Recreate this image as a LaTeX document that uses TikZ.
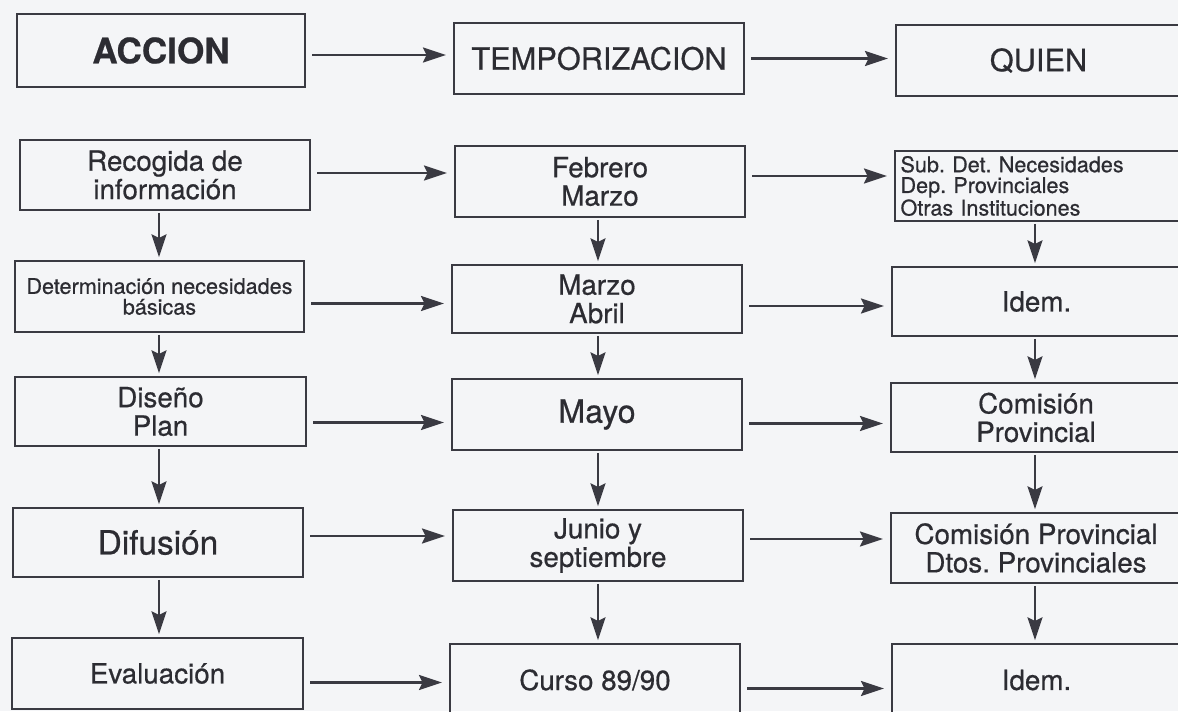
\documentclass[tikz,border=0pt]{standalone}
\usepackage{fontspec}
\setmainfont{TeX Gyre Heros}[FakeBold=0.6]
\usetikzlibrary{arrows.meta}
\definecolor{lc}{HTML}{3A3A42}
\definecolor{tc}{HTML}{2C2C32}
\definecolor{bg}{HTML}{F4F5F7}
\frenchspacing
\begin{document}
\frenchspacing
\begin{tikzpicture}[x=0.02cm,y=-0.02cm,
  bx/.style={draw=lc, line width=1.3pt, inner sep=0pt, align=center, text=tc,
             font=\fontsize{15.8}{16.2}\selectfont},
  big/.style={font=\fontsize{17.5}{19}\selectfont},
  small/.style={font=\fontsize{12.3}{11.8}\selectfont},
  harr/.style={draw=lc, line width=1.4pt, -{Stealth[length=13pt,width=8.5pt,inset=2pt]},
               shorten <=3.5pt, shorten >=4pt},
  varr/.style={draw=lc, line width=1.4pt, -{Stealth[length=13pt,width=8.5pt,inset=2pt]},
               shorten <=1pt, shorten >=1.5pt}]
\fill[bg] (0,0) rectangle (1178,711);
\useasboundingbox (0,0) rectangle (1178,711);

% column 1
\node[bx, minimum width=5.76cm, minimum height=1.46cm, font=\fontsize{20}{22}\selectfont\bfseries] (acc) at (161,50.5) {ACCION};
\node[bx, minimum width=5.80cm, minimum height=1.40cm] (rec) at (165,175) {Recogida de\\información};
\node[bx, small, minimum width=5.78cm, minimum height=1.42cm] (det) at (159.5,296.5) {Determinación necesidades\\básicas};
\node[bx, minimum width=5.82cm, minimum height=1.38cm] (dis) at (160.5,411.5) {Diseño\\Plan};
\node[bx, font=\fontsize{19}{20}\selectfont, minimum width=5.80cm, minimum height=1.38cm] (dif) at (158,542.5) {Difusión};
\node[bx, minimum width=5.82cm, minimum height=1.42cm] (eva) at (157.5,673.5) {Evaluación};

% column 2
\node[bx, big, minimum width=5.80cm, minimum height=1.42cm] (tem) at (599,58.5) {TEMPORIZACION};
\node[bx, minimum width=5.80cm, minimum height=1.42cm] (feb) at (600,181.5) {Febrero\\Marzo};
\node[bx, minimum width=5.80cm, minimum height=1.36cm] (mar) at (597,299) {Marzo\\Abril};
\node[bx, font=\fontsize{18.3}{19}\selectfont, minimum width=5.80cm, minimum height=1.42cm] (may) at (597,414.5) {Mayo};
\node[bx, minimum width=5.80cm, minimum height=1.42cm] (jun) at (598,545.5) {Junio y\\septiembre};
\node[bx, minimum width=5.80cm, minimum height=1.44cm] (cur) at (595,680) {Curso 89/90};

% column 3
\node[bx, big, minimum width=5.70cm, minimum height=1.42cm] (qui) at (1038.5,60.5) {QUIEN};
\node[bx, small, align=left, text width=5.50cm, minimum width=5.72cm, minimum height=1.40cm] (sub) at (1038,186) {Sub. Det. Necesidades\\Dep. Provinciales\\Otras Instituciones};
\node[bx, minimum width=5.78cm, minimum height=1.38cm] (id1) at (1036.5,301.5) {Idem.};
\node[bx, minimum width=5.80cm, minimum height=1.38cm] (com) at (1036,417.5) {Comisión\\Provincial};
\node[bx, minimum width=5.80cm, minimum height=1.40cm] (cpd) at (1036,548) {Comisión Provincial\\Dtos. Provinciales};
\node[bx, minimum width=5.78cm, minimum height=1.44cm] (id2) at (1036.5,680) {Idem.};

% helper coordinates
\path (0,55) coordinate (ya) (0,58.5) coordinate (yb)
      (0,173) coordinate (yc) (0,176) coordinate (yd)
      (0,303.5) coordinate (ye) (0,306) coordinate (yf)
      (0,422.5) coordinate (yg) (0,423.5) coordinate (yh)
      (0,536) coordinate (yi) (0,539) coordinate (yj)
      (0,682.5) coordinate (yk) (0,688.5) coordinate (yl)
      (159,0) coordinate (xa) (598,0) coordinate (xb) (1035,0) coordinate (xc);

% horizontal arrows
\draw[harr] (acc.east |- ya) -- (tem.west |- ya);
\draw[harr] (tem.east |- yb) -- (qui.west |- yb);
\draw[harr] (rec.east |- yc) -- (feb.west |- yc);
\draw[harr] (feb.east |- yd) -- (sub.west |- yd);
\draw[harr] (det.east |- ye) -- (mar.west |- ye);
\draw[harr] (mar.east |- yf) -- (id1.west |- yf);
\draw[harr] (dis.east |- yg) -- (may.west |- yg);
\draw[harr] (may.east |- yh) -- (com.west |- yh);
\draw[harr] (dif.east |- yi) -- (jun.west |- yi);
\draw[harr] (jun.east |- yj) -- (cpd.west |- yj);
\draw[harr] (eva.east |- yk) -- (cur.west |- yk);
\draw[harr] (cur.east |- yl) -- (id2.west |- yl);

% vertical arrows
\draw[varr] (rec.south -| xa) -- (det.north -| xa);
\draw[varr] (det.south -| xa) -- (dis.north -| xa);
\draw[varr] (dis.south -| xa) -- (dif.north -| xa);
\draw[varr] (dif.south -| xa) -- (eva.north -| xa);
\draw[varr] (feb.south -| xb) -- (mar.north -| xb);
\draw[varr] (mar.south -| xb) -- (may.north -| xb);
\draw[varr] (may.south -| xb) -- (jun.north -| xb);
\draw[varr] (jun.south -| xb) -- (cur.north -| xb);
\draw[varr] (sub.south -| xc) -- (id1.north -| xc);
\draw[varr] (id1.south -| xc) -- (com.north -| xc);
\draw[varr] (com.south -| xc) -- (cpd.north -| xc);
\draw[varr] (cpd.south -| xc) -- (id2.north -| xc);
\end{tikzpicture}
\end{document}
